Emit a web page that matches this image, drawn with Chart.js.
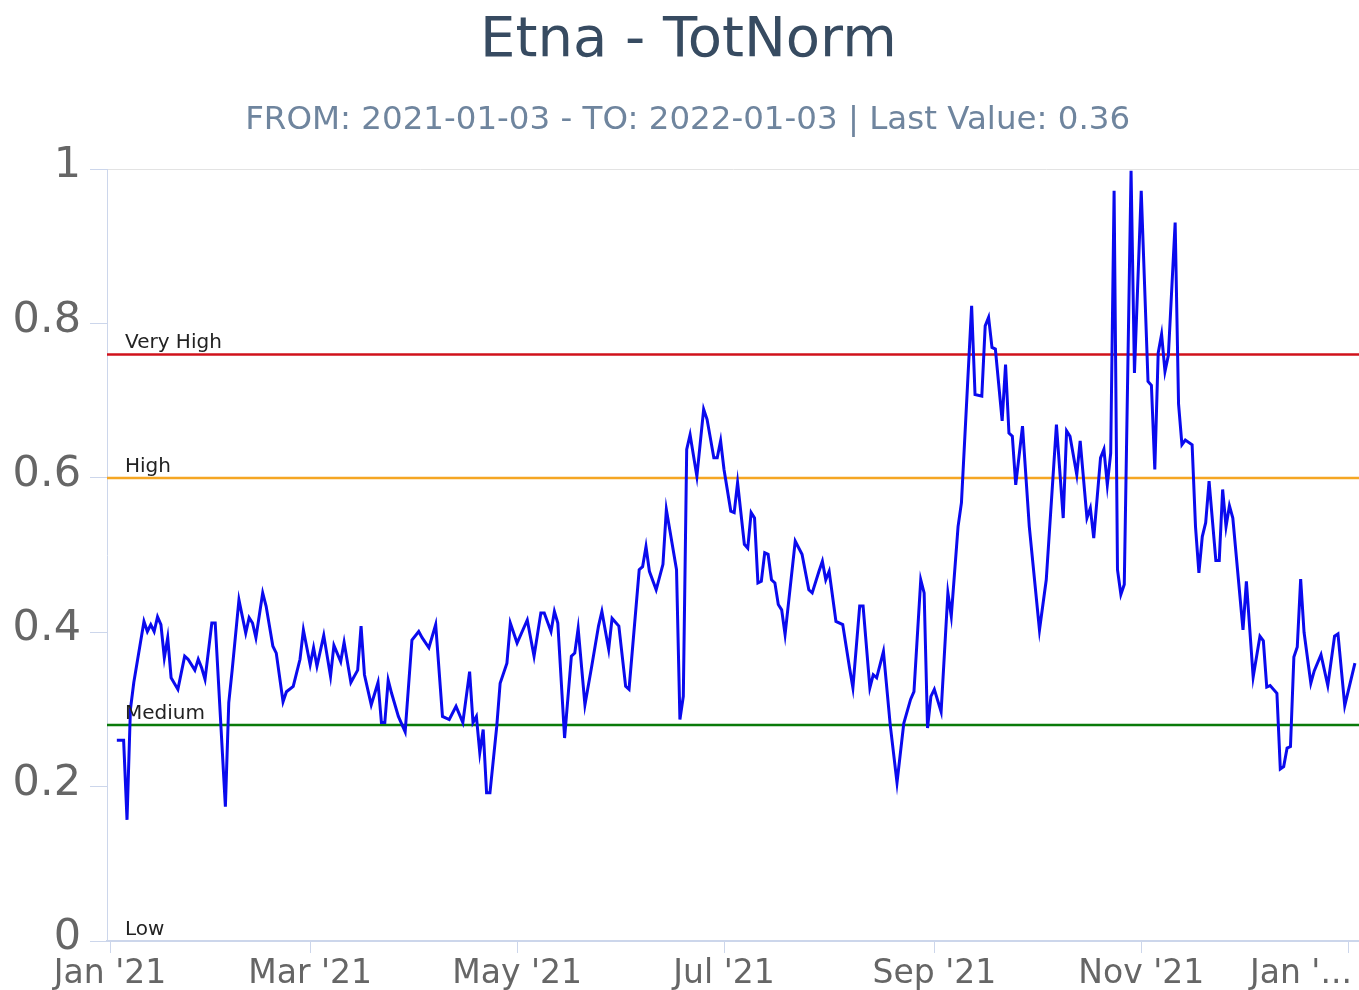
<!DOCTYPE html>
<html>
<head>
<meta charset="utf-8">
<title>Etna - TotNorm</title>
<script src="https://cdn.jsdelivr.net/npm/chart.js@4.4.0/dist/chart.umd.min.js"></script>
<style>
  html, body { margin: 0; padding: 0; background: #ffffff; overflow: hidden; }
  canvas { display: block; }
</style>
</head>
<body>
<canvas id="etna_totnorm" width="1359" height="990"></canvas>
<script>
// x values are days counted from 2021-01-01 (2021-01-03 = day 2, 2022-01-03 = day 367)
const days = [
    2, 4, 5, 6, 7, 10, 11, 12, 13, 14, 15, 16, 17, 18, 20, 22, 23, 25, 26, 27, 28, 30, 31,
    34, 35, 36, 38, 40, 41, 42, 43, 45, 46, 48, 49, 51, 52, 54, 56, 57, 59, 60, 61,
    63, 65, 66, 68, 69, 71, 73, 74, 75, 77, 79, 80, 81, 82, 83, 85, 87, 89, 91, 92, 94, 96,
    98, 100, 102, 104, 106, 107, 108, 109, 110, 111, 112, 114, 115, 117, 118, 120, 123, 125,
    127, 128, 130, 131, 132, 134, 136, 137, 138, 140, 142, 144, 145, 147, 148, 150, 152, 153,
    156, 157, 158, 159, 161, 163, 164, 167, 168, 169, 170, 171, 173, 175, 176, 178, 179, 180,
    181, 183, 184, 185, 187, 188, 189, 190, 191, 192, 193, 194, 195, 196, 197, 198, 199,
    202, 204, 206, 207, 209, 210, 211, 212, 214, 216, 218, 219, 221, 222, 224, 225, 226, 228,
    230, 232, 234, 236, 237, 239, 240, 241, 242, 243, 245, 247, 248, 250, 251, 254, 255, 257,
    258, 259, 260, 261, 263, 264, 265, 266, 267, 269, 271, 274, 276, 279, 281, 282, 283, 285,
    286, 288, 289, 290, 292, 293, 294, 295, 296, 297, 298, 299, 301, 302, 304, 306, 307, 308,
    309, 310, 311, 312, 314, 315, 316, 317, 319, 320, 321, 322, 323, 324, 326, 327, 328, 329,
    330, 331, 334, 335, 337, 339, 340, 341, 342, 344, 345, 346, 347, 348, 349, 350, 351, 352,
    354, 355, 357, 359, 361, 362, 364, 367
];
const values = [
    0.26, 0.26, 0.157, 0.30, 0.335, 0.414, 0.401, 0.41, 0.401, 0.42, 0.41, 0.367, 0.393, 0.341, 0.326, 0.369, 0.365, 0.351, 0.365, 0.354, 0.339, 0.412, 0.412,
    0.174, 0.309, 0.351, 0.442, 0.399, 0.419, 0.412, 0.393, 0.451, 0.434, 0.382, 0.373, 0.310, 0.323, 0.33, 0.365, 0.403, 0.358, 0.38, 0.356,
    0.396, 0.343, 0.383, 0.362, 0.387, 0.335, 0.351, 0.408, 0.345, 0.306, 0.335, 0.283, 0.283, 0.338, 0.321, 0.291, 0.271, 0.39, 0.401, 0.393, 0.38, 0.41,
    0.291, 0.287, 0.304, 0.283, 0.349, 0.283, 0.291, 0.244, 0.274, 0.192, 0.192, 0.278, 0.334, 0.36, 0.412, 0.386, 0.416, 0.369,
    0.425, 0.425, 0.401, 0.427, 0.412, 0.263, 0.369, 0.373, 0.405, 0.306, 0.356, 0.408, 0.427, 0.378, 0.418, 0.408, 0.33, 0.326,
    0.481, 0.485, 0.511, 0.479, 0.455, 0.488, 0.559, 0.481, 0.287, 0.317, 0.637, 0.656, 0.602, 0.689, 0.676, 0.626, 0.626, 0.648,
    0.611, 0.557, 0.555, 0.594, 0.514, 0.509, 0.555, 0.548, 0.464, 0.466, 0.503, 0.501, 0.468, 0.464, 0.436, 0.429, 0.397,
    0.518, 0.501, 0.455, 0.451, 0.479, 0.492, 0.468, 0.479, 0.414, 0.41, 0.354, 0.328, 0.434, 0.434, 0.328, 0.345, 0.341, 0.375,
    0.28, 0.205, 0.282, 0.313, 0.323, 0.468, 0.451, 0.276, 0.317, 0.326, 0.297, 0.451, 0.421, 0.537, 0.568, 0.823, 0.708, 0.706,
    0.797, 0.808, 0.769, 0.767, 0.674, 0.747, 0.658, 0.654, 0.591, 0.667, 0.537, 0.403, 0.468, 0.669, 0.548, 0.661, 0.654, 0.604,
    0.648, 0.548, 0.561, 0.522, 0.626, 0.637, 0.591, 0.632, 0.972, 0.481, 0.449, 0.462, 0.998, 0.736, 0.972, 0.725, 0.72, 0.611,
    0.762, 0.786, 0.738, 0.759, 0.931, 0.696, 0.643, 0.649, 0.643, 0.537, 0.477, 0.524, 0.542, 0.596, 0.493, 0.493, 0.585, 0.537,
    0.564, 0.548, 0.403, 0.466, 0.342, 0.395, 0.389, 0.329, 0.331, 0.321, 0.223, 0.226, 0.25, 0.252, 0.368, 0.381, 0.469, 0.40,
    0.334, 0.35, 0.371, 0.331, 0.395, 0.398, 0.305, 0.36
];

// month ticks (days from 2021-01-01) and their labels
const tickDays = [0, 59, 120, 181, 243, 304, 365];
const tickLabels = ["Jan '21", "Mar '21", "May '21", "Jul '21", "Sep '21", "Nov '21", "Jan '..."];
const yTicks = [0, 0.2, 0.4, 0.6, 0.8, 1];

// alert levels
const levelNames = ['Very High', 'High', 'Medium', 'Low'];
const levelValues = [0.76, 0.6, 0.28, 0];
const levelColors = ['#d0121b', '#f5a623', '#0a7a0a', 'rgba(0,0,0,0)'];

const FONT = '"DejaVu Sans", sans-serif';
const X_MIN = -0.9;
const X_MAX = 368.2;

const levelDatasets = levelValues.map((v, i) => ({
    label: levelNames[i],
    data: [{ x: X_MIN, y: v }, { x: X_MAX, y: v }],
    borderColor: levelColors[i],
    borderWidth: 2.5,
    pointRadius: 0,
    order: 2
}));

// draws the level names just above their lines
const levelLabels = {
    id: 'levelLabels',
    afterDatasetsDraw(chart) {
        const { ctx, chartArea, scales } = chart;
        ctx.save();
        ctx.font = '20px ' + FONT;
        ctx.fillStyle = '#222222';
        ctx.textAlign = 'left';
        ctx.textBaseline = 'alphabetic';
        levelNames.forEach((name, i) => {
            ctx.fillText(name, chartArea.left + 18, scales.y.getPixelForValue(levelValues[i]) - 6);
        });
        ctx.restore();
    }
};

const ctx_etna = document.getElementById('etna_totnorm').getContext('2d');
const etnaChart = new Chart(ctx_etna, {
    type: 'line',
    data: {
        datasets: [{
            label: 'TotNorm',
            data: days.map((d, i) => ({ x: d, y: values[i] })),
            borderColor: '#0a0aee',
            borderWidth: 3,
            pointRadius: 0,
            tension: 0,
            fill: false,
            order: 1
        }].concat(levelDatasets)
    },
    options: {
        responsive: false,
        maintainAspectRatio: false,
        animation: false,
        layout: { padding: 0 },
        scales: {
            x: {
                type: 'linear',
                min: X_MIN,
                max: X_MAX,
                afterBuildTicks: s => { s.ticks = tickDays.map(v => ({ value: v })); },
                afterFit: s => { s.height = 49; s.paddingLeft = 0; s.paddingRight = 0; },
                grid: { drawOnChartArea: false, color: '#ccd6eb', tickLength: 12 },
                border: { color: '#ccd6eb', width: 2 },
                ticks: {
                    autoSkip: false,
                    maxRotation: 0,
                    minRotation: 0,
                    padding: 2,
                    color: '#666666',
                    font: { family: FONT, size: 33 },
                    callback: (v, i) => i === tickLabels.length - 1 ? tickLabels[i] + '         ' : tickLabels[i]
                }
            },
            y: {
                min: 0,
                max: 1,
                afterBuildTicks: s => { s.ticks = yTicks.map(v => ({ value: v })); },
                afterFit: s => { s.width = 107; s.paddingTop = 0; s.paddingBottom = 0; },
                grid: {
                    color: c => (c.tick && c.tick.value === 1) ? '#e3e3e3' : 'rgba(0,0,0,0)',
                    tickColor: '#ccd6eb',
                    tickLength: 17,
                    lineWidth: 1
                },
                border: { color: '#ccd6eb', width: 1 },
                ticks: {
                    padding: 9,
                    labelOffset: -3,
                    color: '#666666',
                    font: { family: FONT, size: 43 },
                    callback: v => String(v)
                }
            }
        },
        plugins: {
            legend: { display: false },
            tooltip: { enabled: false },
            title: {
                display: true,
                // leading space nudges the centred text right, as in the original
                text: ' Etna - TotNorm',
                color: '#374b61',
                font: { family: FONT, size: 56, weight: 'normal' },
                padding: { top: 8, bottom: 26 }
            },
            subtitle: {
                display: true,
                text: '\u2002FROM: 2021-01-03 - TO: 2022-01-03 | Last Value: 0.36',
                color: '#6f859e',
                font: { family: FONT, size: 32.5, weight: 'normal' },
                padding: { top: 0, bottom: 29 }
            }
        }
    },
    plugins: [levelLabels]
});
</script>
</body>
</html>
